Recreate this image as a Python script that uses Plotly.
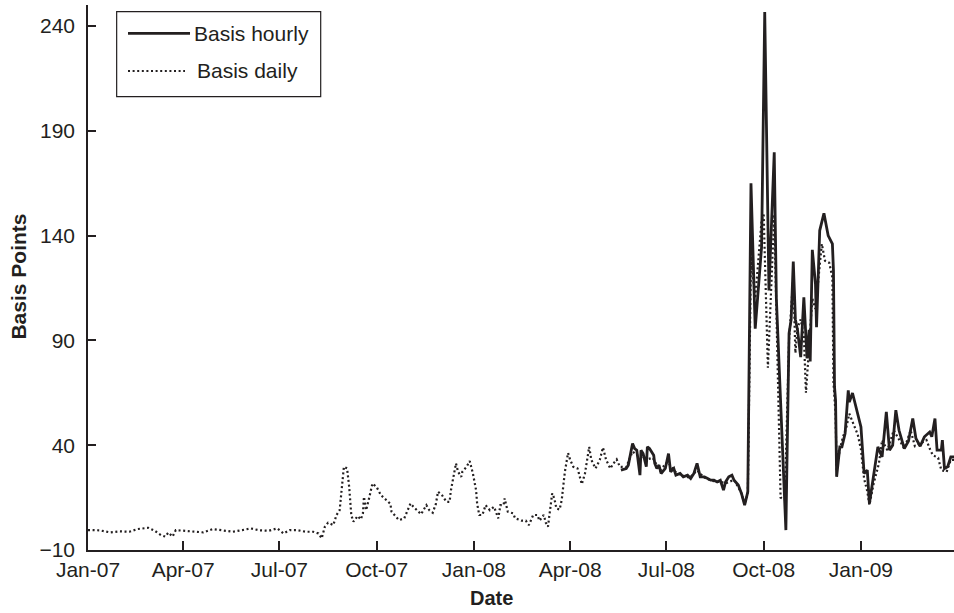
import plotly.graph_objects as go

# Daily basis (dotted), basis points
daily_dates = [
    "2007-01-01", "2007-01-12", "2007-01-22", "2007-01-31", "2007-02-09", "2007-02-17",
    "2007-02-27", "2007-03-05", "2007-03-11", "2007-03-15", "2007-03-18", "2007-03-22",
    "2007-03-25", "2007-04-04", "2007-04-13", "2007-04-20", "2007-04-29", "2007-05-08",
    "2007-05-18", "2007-05-27", "2007-06-04", "2007-06-12", "2007-06-21", "2007-06-29",
    "2007-07-05", "2007-07-11", "2007-07-18", "2007-07-26", "2007-08-02", "2007-08-07",
    "2007-08-10", "2007-08-13", "2007-08-16", "2007-08-21", "2007-08-24", "2007-08-27",
    "2007-08-29", "2007-08-31", "2007-09-03", "2007-09-05", "2007-09-07", "2007-09-09",
    "2007-09-13", "2007-09-16", "2007-09-18", "2007-09-19", "2007-09-21", "2007-09-23",
    "2007-09-24", "2007-09-27", "2007-10-01", "2007-10-05", "2007-10-10", "2007-10-14",
    "2007-10-15", "2007-10-19", "2007-10-22", "2007-10-27", "2007-10-30", "2007-11-02",
    "2007-11-05", "2007-11-12", "2007-11-17", "2007-11-20", "2007-11-23", "2007-11-26",
    "2007-11-28", "2007-12-02", "2007-12-06", "2007-12-09", "2007-12-10", "2007-12-12",
    "2007-12-15", "2007-12-17", "2007-12-20", "2007-12-21", "2007-12-25", "2007-12-28",
    "2007-12-31", "2008-01-03", "2008-01-04", "2008-01-06", "2008-01-09", "2008-01-12",
    "2008-01-16", "2008-01-20", "2008-01-24", "2008-01-26", "2008-01-29", "2008-01-30",
    "2008-02-02", "2008-02-07", "2008-02-09", "2008-02-15", "2008-02-19", "2008-02-22",
    "2008-02-26", "2008-03-01", "2008-03-03", "2008-03-07", "2008-03-09", "2008-03-11",
    "2008-03-13", "2008-03-15", "2008-03-17", "2008-03-19", "2008-03-22", "2008-03-24",
    "2008-03-27", "2008-03-29", "2008-03-30", "2008-04-01", "2008-04-04", "2008-04-08",
    "2008-04-12", "2008-04-15", "2008-04-19", "2008-04-21", "2008-04-25", "2008-04-29",
    "2008-05-02", "2008-05-05", "2008-05-09", "2008-05-12", "2008-05-15", "2008-05-18",
    "2008-05-24", "2008-05-30", "2008-06-04", "2008-06-11", "2008-06-18", "2008-06-25",
    "2008-07-02", "2008-07-09", "2008-07-16", "2008-07-23", "2008-07-30", "2008-08-06",
    "2008-08-13", "2008-08-20", "2008-08-27", "2008-09-03", "2008-09-10", "2008-09-13",
    "2008-09-16", "2008-09-19", "2008-09-23", "2008-09-29", "2008-10-01", "2008-10-05",
    "2008-10-11", "2008-10-17", "2008-10-21", "2008-10-25", "2008-10-29", "2008-10-31",
    "2008-11-02", "2008-11-05", "2008-11-08", "2008-11-10", "2008-11-13", "2008-11-16",
    "2008-11-19", "2008-11-22", "2008-11-25", "2008-11-28", "2008-12-02", "2008-12-05",
    "2008-12-06", "2008-12-08", "2008-12-09", "2008-12-12", "2008-12-15", "2008-12-18",
    "2008-12-21", "2008-12-25", "2008-12-29", "2009-01-01", "2009-01-04", "2009-01-07",
    "2009-01-09", "2009-01-13", "2009-01-18", "2009-01-21", "2009-01-26", "2009-02-01",
    "2009-02-06", "2009-02-11", "2009-02-17", "2009-02-21", "2009-02-27", "2009-03-04",
    "2009-03-07", "2009-03-10", "2009-03-15", "2009-03-18", "2009-03-23", "2009-03-27",
    "2009-03-30",
]
daily_values = [
    -0.5, -0.6, -1.6, -1.1, -1.3, 0.0,
    0.6, -0.8, -2.9, -3.6, -1.7, -3.6,
    -0.5, -1.0, -1.3, -1.6, 0.0, -0.5,
    -1.3, -0.5, 0.3, -0.6, -0.8, 0.3,
    -2.1, -0.5, -0.5, -1.3, -1.3, -2.1,
    -4.4, 1.1, 3.0, 1.9, 6.7, 9.0,
    18.6, 29.7, 29.0, 20.2, 6.7, 3.5,
    6.2, 4.6, 7.5, 15.4, 9.0, 12.5,
    15.0, 21.7, 20.0, 16.2, 13.8, 12.0,
    8.3, 6.2, 4.3, 5.0, 8.3, 12.2,
    10.5, 7.1, 11.4, 8.8, 7.8, 12.0,
    17.8, 16.0, 13.0, 13.0, 17.8, 23.3,
    31.3, 27.3, 24.9, 27.3, 29.7, 32.4,
    26.5, 18.6, 12.2, 6.7, 6.7, 11.4,
    9.0, 10.6, 5.1, 11.4, 11.4, 14.6,
    8.3, 7.5, 5.1, 4.0, 4.0, 1.9,
    6.7, 6.7, 4.0, 6.7, 3.0, 1.1,
    8.3, 17.0, 14.6, 9.8, 9.3, 13.8,
    27.3, 35.2, 36.3, 33.0, 29.7, 28.9,
    21.4, 26.5, 39.2, 33.0, 28.9, 33.0,
    38.9, 33.0, 28.9, 31.3, 33.2, 29.7,
    29.5, 37.0, 35.0, 33.0, 34.0, 28.0,
    32.0, 27.5, 25.5, 24.5, 28.0, 24.5,
    23.0, 22.5, 22.0, 23.5, 17.0, 12.0,
    17.0, 130.0, 110.0, 147.0, 150.0, 77.0,
    150.0, 15.0, 14.0, 90.0, 120.0, 84.0,
    96.0, 100.0, 92.0, 65.0, 90.0, 110.0,
    105.0, 120.0, 136.0, 128.0, 127.0, 120.0,
    70.0, 55.0, 28.0, 38.0, 44.0, 48.0,
    55.0, 50.0, 45.0, 38.0, 24.0, 18.0,
    11.4, 21.7, 31.3, 42.4, 37.6, 47.1,
    42.4, 38.4, 47.1, 39.5, 41.0, 42.4,
    38.4, 35.2, 34.0, 28.1, 27.3, 33.0,
    33.0,
]

# Hourly basis (solid), basis points, available from May 2008
hourly_dates = [
    "2008-05-19", "2008-05-24", "2008-05-26", "2008-05-30", "2008-06-01", "2008-06-03",
    "2008-06-06", "2008-06-07", "2008-06-09", "2008-06-12", "2008-06-13", "2008-06-15",
    "2008-06-19", "2008-06-20", "2008-06-22", "2008-06-24", "2008-06-26", "2008-06-30",
    "2008-07-03", "2008-07-05", "2008-07-08", "2008-07-10", "2008-07-14", "2008-07-17",
    "2008-07-21", "2008-07-24", "2008-07-27", "2008-07-30", "2008-08-02", "2008-08-06",
    "2008-08-09", "2008-08-12", "2008-08-15", "2008-08-18", "2008-08-21", "2008-08-24",
    "2008-08-26", "2008-08-29", "2008-09-01", "2008-09-03", "2008-09-07", "2008-09-10",
    "2008-09-13", "2008-09-16", "2008-09-19", "2008-09-23", "2008-09-29", "2008-10-02",
    "2008-10-06", "2008-10-11", "2008-10-13", "2008-10-22", "2008-10-25", "2008-10-27",
    "2008-10-29", "2008-10-31", "2008-11-02", "2008-11-05", "2008-11-08", "2008-11-11",
    "2008-11-13", "2008-11-14", "2008-11-16", "2008-11-19", "2008-11-20", "2008-11-23",
    "2008-11-27", "2008-12-01", "2008-12-05", "2008-12-06", "2008-12-07", "2008-12-08",
    "2008-12-09", "2008-12-12", "2008-12-14", "2008-12-17", "2008-12-20", "2008-12-21",
    "2008-12-24", "2008-12-27", "2009-01-01", "2009-01-04", "2009-01-07", "2009-01-09",
    "2009-01-14", "2009-01-17", "2009-01-21", "2009-01-25", "2009-01-28", "2009-01-31",
    "2009-02-03", "2009-02-06", "2009-02-11", "2009-02-15", "2009-02-19", "2009-02-22",
    "2009-02-26", "2009-03-02", "2009-03-07", "2009-03-09", "2009-03-12", "2009-03-14",
    "2009-03-18", "2009-03-19", "2009-03-21", "2009-03-24", "2009-03-27", "2009-03-30",
]
hourly_values = [
    28.1, 28.9, 30.5, 40.8, 38.4, 37.6,
    25.7, 37.6, 36.0, 29.7, 39.2, 38.4,
    35.2, 31.3, 28.9, 30.5, 26.5, 28.9,
    36.0, 27.3, 28.9, 25.7, 26.5, 24.9,
    25.7, 24.1, 26.5, 31.3, 24.9, 24.9,
    24.1, 23.3, 23.3, 22.5, 23.3, 18.6,
    22.5, 24.9, 25.7, 23.3, 21.0, 17.0,
    11.4, 17.8, 164.9, 95.6, 134.4, 246.7,
    113.8, 179.7, 110.0, -0.5, 93.3, 100.0,
    127.6, 100.0, 95.0, 82.0, 110.6, 81.4,
    95.0, 80.0, 133.2, 117.0, 96.3, 142.4,
    150.6, 140.0, 136.0, 123.3, 67.8, 61.4,
    24.9, 39.2, 39.2, 45.6, 66.2, 60.6,
    64.9, 58.3, 48.7, 26.5, 28.1, 12.2,
    28.1, 39.2, 34.4, 55.9, 37.6, 40.0,
    56.7, 47.1, 38.4, 42.0, 52.7, 43.2,
    39.5, 44.0, 46.3, 44.0, 52.7, 37.6,
    37.6, 42.4, 28.9, 29.7, 34.4, 34.4,
]

# Axis ticks
x_tick_dates = ["2007-01-01", "2007-04-01", "2007-07-01", "2007-10-01", "2008-01-01",
                "2008-04-01", "2008-07-01", "2008-10-01", "2009-01-01"]
x_tick_labels = ["Jan-07", "Apr-07", "Jul-07", "Oct-07", "Jan-08",
                 "Apr-08", "Jul-08", "Oct-08", "Jan-09"]
y_tick_values = [-10, 40, 90, 140, 190, 240]

INK = "#231f20"
FONT = "Liberation Sans, Arial, Helvetica, sans-serif"
DOTS = "2px,2.6px"

fig = go.Figure()
fig.add_trace(go.Scatter(
    x=daily_dates, y=daily_values, mode="lines", name="Basis daily",
    line=dict(color=INK, width=2.2, dash=DOTS), showlegend=False,
))
fig.add_trace(go.Scatter(
    x=hourly_dates, y=hourly_values, mode="lines", name="Basis hourly",
    line=dict(color=INK, width=2.8), showlegend=False,
))

# Boxed key in the upper-left corner of the plot
fig.add_shape(type="rect", xref="paper", yref="paper", x0=0.0331, x1=0.2687,
              y0=0.8318, y1=0.9877, line=dict(color=INK, width=1.2), fillcolor="white")
fig.add_shape(type="line", xref="paper", yref="paper", x0=0.0462, x1=0.1178,
              y0=0.948, y1=0.948, line=dict(color=INK, width=2.8))
fig.add_shape(type="line", xref="paper", yref="paper", x0=0.0462, x1=0.112,
              y0=0.8789, y1=0.8789, line=dict(color=INK, width=2.2, dash=DOTS))

annotations = [
    dict(text="Basis hourly", x=0.1201, y=0.948, xanchor="left", yanchor="middle"),
    dict(text="Basis daily", x=0.1236, y=0.8789, xanchor="left", yanchor="middle"),
]
for a in annotations:
    a.update(xref="paper", yref="paper", showarrow=False,
             font=dict(family=FONT, size=21, color=INK))

annotations.append(dict(text="<b>Date</b>", xref="paper", yref="paper", x=0.4665, y=-0.088,
                        xanchor="center", yanchor="middle", showarrow=False,
                        font=dict(family=FONT, size=20, color=INK)))
annotations.append(dict(text="<b>Basis Points</b>", xref="paper", yref="paper", x=-0.0808,
                        y=0.5018, xanchor="center", yanchor="middle", textangle=-90,
                        showarrow=False, font=dict(family=FONT, size=21, color=INK)))

fig.update_layout(
    width=954, height=613,
    margin=dict(l=88, r=0, t=5, b=63, pad=0),
    paper_bgcolor="white", plot_bgcolor="white",
    font=dict(family=FONT, size=21, color=INK),
    annotations=annotations,
    showlegend=False,
)
fig.update_xaxes(
    type="date", range=["2007-01-01", "2009-03-30"],
    tickvals=x_tick_dates, ticktext=x_tick_labels,
    ticks="inside", ticklen=9, tickwidth=1.5, tickcolor=INK,
    showline=True, linecolor=INK, linewidth=1.5, mirror=False,
    showgrid=False, zeroline=False,
    tickfont=dict(family=FONT, size=21, color=INK),
    ticklabelstandoff=0,
)
fig.update_yaxes(
    range=[-10, 250], tickvals=y_tick_values,
    ticks="inside", ticklen=8, tickwidth=1.5, tickcolor=INK,
    showline=True, linecolor=INK, linewidth=1.5, mirror=False,
    showgrid=False, zeroline=False,
    tickfont=dict(family=FONT, size=21, color=INK),
    ticklabelstandoff=7,
)

fig.write_html("out.html")
